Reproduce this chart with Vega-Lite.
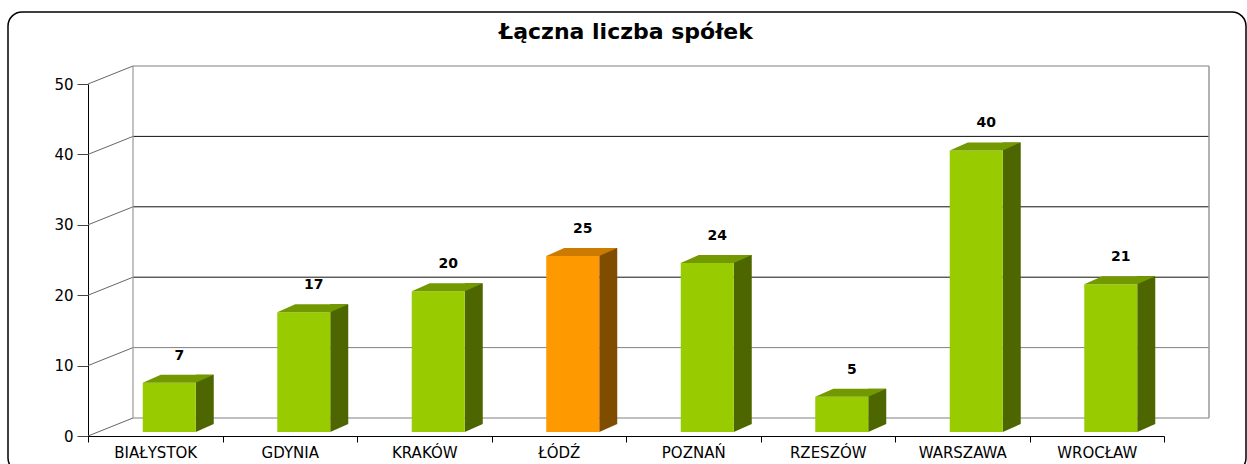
{
  "$schema": "https://vega.github.io/schema/vega-lite/v6.json",
  "width": 1076,
  "height": 352,
  "autosize": "none",
  "padding": {"left": 88, "top": 84, "right": 83, "bottom": 28},
  "background": "white",
  "title": {"text": "Łączna liczba spółek", "font": "DejaVu Sans", "fontSize": 22, "fontWeight": "bold", "color": "#000", "anchor": "middle", "frame": "group", "offset": -33},
  "config": {
    "view": {"stroke": null},
    "axisX": {"title": null, "labelAngle": 0, "labelAlign": "center", "labelBaseline": "top", "tickBand": "extent", "tickSize": 6, "labelPadding": 3, "domainColor": "#000", "tickColor": "#000", "labelFont": "DejaVu Sans", "labelFontSize": 15, "labelColor": "#000", "labelOverlap": false, "grid": false},
    "axisY": {"title": null, "tickSize": 11, "labelPadding": 4, "domainColor": "#000", "tickColor": "#444", "labelFont": "DejaVu Sans", "labelFontSize": 15, "labelColor": "#000", "grid": false, "values": [0, 10, 20, 30, 40, 50]}
  },
  "datasets": {
    "cities": [
      {"city": "BIAŁYSTOK", "value": 7},
      {"city": "GDYNIA", "value": 17},
      {"city": "KRAKÓW", "value": 20},
      {"city": "ŁÓDŹ", "value": 25},
      {"city": "POZNAŃ", "value": 24},
      {"city": "RZESZÓW", "value": 5},
      {"city": "WARSZAWA", "value": 40},
      {"city": "WROCŁAW", "value": 21}
    ],
    "ticks": [{"v": 0}, {"v": 10}, {"v": 20}, {"v": 30}, {"v": 40}, {"v": 50}]
  },
  "layer": [
    {
      "data": {"values": [{}]},
      "mark": {"type": "rect", "filled": false, "color": "#000", "strokeWidth": 1.5, "cornerRadius": 14, "xOffset": -80, "x2Offset": 82, "yOffset": -72, "y2Offset": 36},
      "encoding": {
        "x": {"datum": "BIAŁYSTOK", "bandPosition": 0, "scale": {"type": "band", "domain": ["BIAŁYSTOK", "GDYNIA", "KRAKÓW", "ŁÓDŹ", "POZNAŃ", "RZESZÓW", "WARSZAWA", "WROCŁAW"], "paddingInner": 0, "paddingOuter": 0}, "axis": {"labelAngle": 0, "labelAlign": "center"}},
        "x2": {"datum": "WROCŁAW", "bandPosition": 1},
        "y": {"datum": 50, "scale": {"domain": [0, 50], "nice": false}, "axis": {"values": [0, 10, 20, 30, 40, 50]}},
        "y2": {"datum": 0}
      }
    },
    {
      "data": {"name": "ticks"},
      "mark": {"type": "rule", "strokeWidth": 1, "xOffset": 45, "x2Offset": 45, "yOffset": -18, "y2Offset": -18},
      "encoding": {
        "x": {"datum": "BIAŁYSTOK", "bandPosition": 0},
        "x2": {"datum": "WROCŁAW", "bandPosition": 1},
        "y": {"field": "v", "type": "quantitative"},
        "color": {"condition": {"test": "datum.v >= 20 && datum.v <= 40", "value": "#111111"}, "value": "#808080"}
      }
    },
    {
      "data": {"name": "ticks"},
      "mark": {"type": "rule", "strokeWidth": 1, "color": "#666666", "x2Offset": 45, "y2Offset": -18},
      "encoding": {
        "x": {"datum": "BIAŁYSTOK", "bandPosition": 0},
        "x2": {"datum": "BIAŁYSTOK", "bandPosition": 0},
        "y": {"field": "v", "type": "quantitative"},
        "y2": {"field": "v"}
      }
    },
    {
      "data": {"values": [{}]},
      "mark": {"type": "rule", "strokeWidth": 1.2, "color": "#999999", "xOffset": 45, "yOffset": -18, "y2Offset": -18},
      "encoding": {
        "x": {"datum": "BIAŁYSTOK", "bandPosition": 0},
        "y": {"datum": 0},
        "y2": {"datum": 50}
      }
    },
    {
      "data": {"values": [{}]},
      "mark": {"type": "rule", "strokeWidth": 1.5, "color": "#999999", "xOffset": 45, "yOffset": -18, "y2Offset": -18},
      "encoding": {
        "x": {"datum": "WROCŁAW", "bandPosition": 1},
        "y": {"datum": 0},
        "y2": {"datum": 50}
      }
    },
    {
      "data": {"name": "cities"},
      "mark": {"type": "bar", "width": 18, "xOffset": 49.5, "yOffset": -12, "y2Offset": -12},
      "encoding": {
        "x": {"field": "city", "type": "nominal", "sort": null},
        "y": {"field": "value", "type": "quantitative"},
        "color": {"condition": {"test": "datum.city === 'ŁÓDŹ'", "value": "#7F4C00"}, "value": "#4D6600"}
      }
    },
    {
      "data": {"name": "cities"},
      "mark": {"type": "point", "shape": "M 40.5 -12 L 58.5 -12 L 40.5 -4 Z", "size": 4, "filled": true, "opacity": 1, "strokeWidth": 0},
      "encoding": {
        "x": {"field": "city", "type": "nominal", "sort": null},
        "y": {"datum": 0},
        "color": {"condition": {"test": "datum.city === 'ŁÓDŹ'", "value": "#7F4C00"}, "value": "#4D6600"}
      }
    },
    {
      "data": {"name": "cities"},
      "mark": {"type": "bar", "width": 53, "xOffset": 14, "yOffset": -4, "y2Offset": -4},
      "encoding": {
        "x": {"field": "city", "type": "nominal", "sort": null},
        "y": {"field": "value", "type": "quantitative"},
        "color": {"condition": {"test": "datum.city === 'ŁÓDŹ'", "value": "#FF9900"}, "value": "#99CC00"}
      }
    },
    {
      "data": {"name": "cities"},
      "mark": {"type": "point", "shape": "M -12.5 -4 L 40.5 -4 L 58.5 -12 L 5.5 -12 Z", "size": 4, "filled": true, "opacity": 1, "strokeWidth": 0},
      "encoding": {
        "x": {"field": "city", "type": "nominal", "sort": null},
        "y": {"field": "value", "type": "quantitative"},
        "color": {"condition": {"test": "datum.city === 'ŁÓDŹ'", "value": "#CC7A00"}, "value": "#739900"}
      }
    },
    {
      "data": {"name": "cities"},
      "mark": {"type": "text", "font": "DejaVu Sans", "fontSize": 14, "fontWeight": "bold", "color": "#000", "xOffset": 24, "yOffset": -31, "baseline": "middle", "align": "center"},
      "encoding": {
        "x": {"field": "city", "type": "nominal", "sort": null},
        "y": {"field": "value", "type": "quantitative"},
        "text": {"field": "value", "type": "quantitative"}
      }
    }
  ]
}
